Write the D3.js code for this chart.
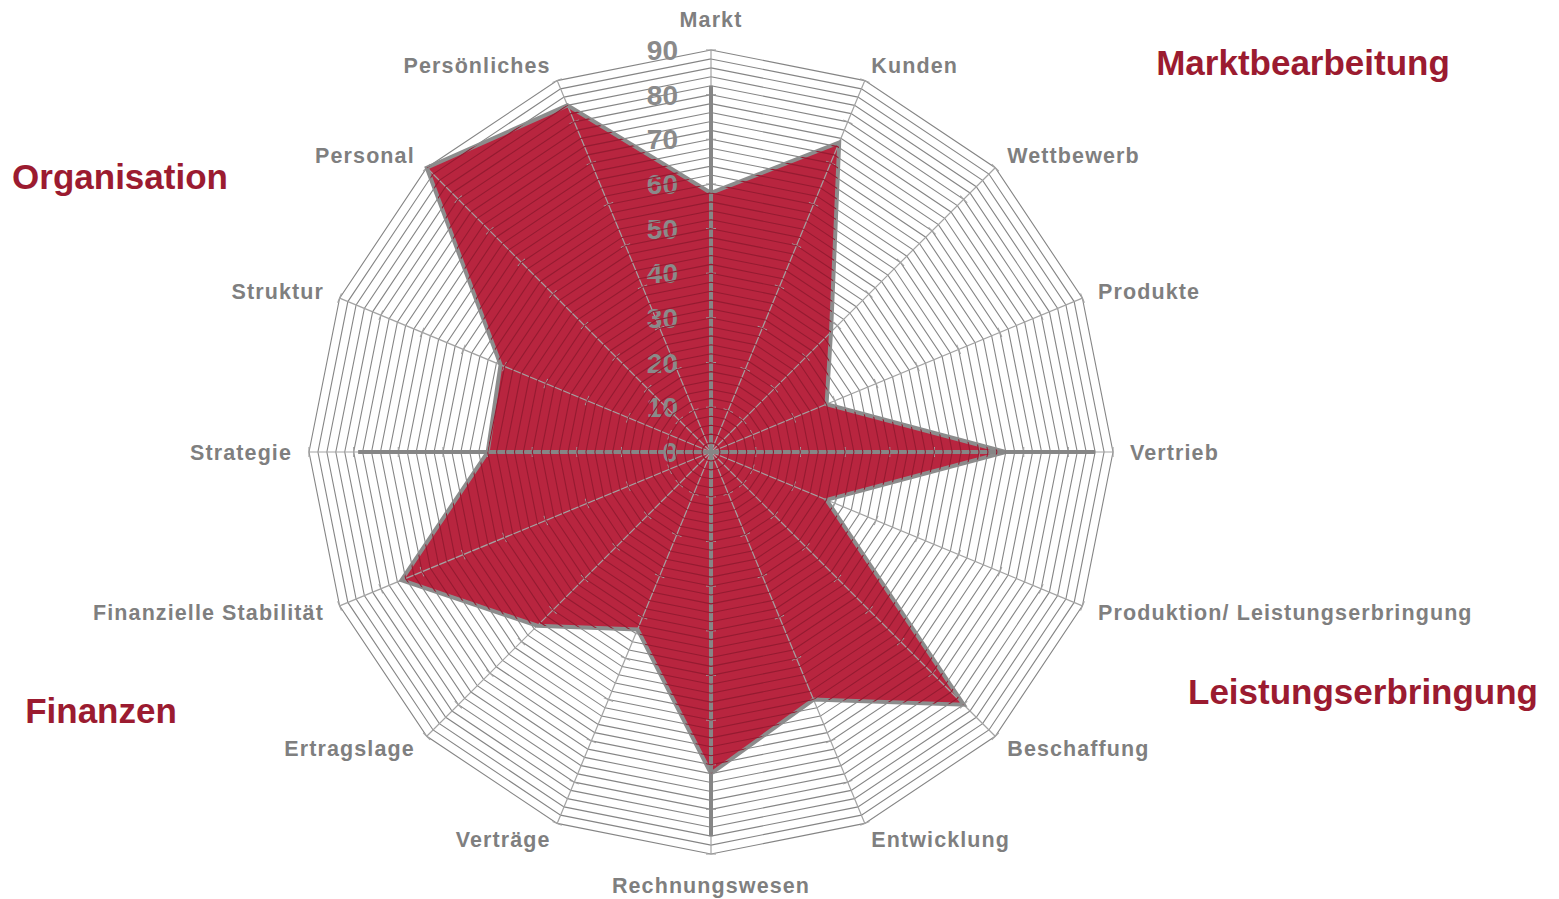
<!DOCTYPE html>
<html>
<head>
<meta charset="utf-8">
<script src="https://cdn.jsdelivr.net/npm/d3@7"></script>
<style>
  body { margin: 0; background: #fff; }
  svg { display: block; font-family: Arial, "Liberation Sans", sans-serif; }
</style>
</head>
<body>
<div id="chart-area"></div>
<script>
var categories = ["Markt", "Kunden", "Wettbewerb", "Produkte", "Vertrieb",
  "Produktion/ Leistungserbringung", "Beschaffung", "Entwicklung", "Rechnungswesen",
  "Verträge", "Ertragslage", "Finanzielle Stabilität", "Strategie", "Struktur",
  "Personal", "Persönliches"];
var values = [58, 75, 38, 28, 66, 28, 80, 60, 72, 43, 55, 75, 50, 51, 90, 84];
var tickLabels = [0, 10, 20, 30, 40, 50, 60, 70, 80, 90];
var groups = ["Marktbearbeitung", "Organisation", "Finanzen", "Leistungserbringung"];

var width = 1559, height = 899;
var cx = 711, cy = 452;
var n = categories.length;
var step = 2 * Math.PI / n;

var svg = d3.select("#chart-area").append("svg")
    .attr("width", width)
    .attr("height", height);

var r = d3.scaleLinear().domain([0, 90]).range([0, 402]);

var g = svg.append("g").attr("transform", "translate(" + cx + "," + cy + ")");

function pt(i, v) {
  var a = i * step;
  return [r(v) * Math.sin(a), -r(v) * Math.cos(a)];
}

var ringLine = d3.lineRadial()
    .angle(function(d, i) { return i * step; })
    .radius(function(d) { return r(d); })
    .curve(d3.curveLinearClosed);

var rings = d3.range(2, 91, 2);

// grid rings
g.append("g").selectAll("path")
  .data(rings)
  .enter().append("path")
    .attr("d", function(v) { return ringLine(d3.range(n).map(function() { return v; })); })
    .attr("fill", "none")
    .attr("stroke", "#858585")
    .attr("stroke-width", 1.1);

// data area
var areaPath = ringLine(values);
svg.append("defs").append("clipPath").attr("id", "clip")
  .append("path")
    .attr("transform", "translate(" + cx + "," + cy + ")")
    .attr("d", areaPath);

g.append("path")
    .attr("d", areaPath)
    .attr("fill", "#b8253f");

// rings visible through the fill
svg.append("g").attr("clip-path", "url(#clip)")
  .append("g").attr("transform", "translate(" + cx + "," + cy + ")")
  .selectAll("path")
  .data(rings)
  .enter().append("path")
    .attr("d", function(v) { return ringLine(d3.range(n).map(function() { return v; })); })
    .attr("fill", "none")
    .attr("stroke", "#951b31")
    .attr("stroke-width", 1.1);

// spokes with ticks
var spokes = g.append("g");
d3.range(n).forEach(function(i) {
  var end = pt(i, 90);
  spokes.append("line")
    .attr("x1", 0).attr("y1", 0)
    .attr("x2", end[0]).attr("y2", end[1])
    .attr("stroke", "#a3a3a3")
    .attr("stroke-width", 1.2);
  var a = i * step;
  var px = Math.cos(a) * 5, py = Math.sin(a) * 5;
  tickLabels.slice(1).forEach(function(v) {
    var p = pt(i, v);
    spokes.append("line")
      .attr("x1", p[0] - px).attr("y1", p[1] - py)
      .attr("x2", p[0] + px).attr("y2", p[1] + py)
      .attr("stroke", "#a3a3a3")
      .attr("stroke-width", 1.2);
  });
});

// outline
g.append("path")
    .attr("d", areaPath)
    .attr("fill", "none")
    .attr("stroke", "#8c8c8c")
    .attr("stroke-width", 4)
    .attr("stroke-linejoin", "miter");

// heavy main axes
[[0, 82], [4, 86], [8, 86], [12, 79]].forEach(function(d) {
  var p = pt(d[0], d[1]);
  g.append("line")
    .attr("x1", 0).attr("y1", 0)
    .attr("x2", p[0]).attr("y2", p[1])
    .attr("stroke", "#868686")
    .attr("stroke-width", 4);
});

// value labels
g.append("g").selectAll("text")
  .data(tickLabels)
  .enter().append("text")
    .attr("x", -33)
    .attr("y", function(d) { return -r(d); })
    .attr("dy", "0.36em")
    .attr("text-anchor", "end")
    .attr("font-size", "28px")
    .attr("font-weight", "bold")
    .attr("fill", "#8a8a8a")
    .text(function(d) { return d; });

// category labels
g.append("g").selectAll("text")
  .data(categories)
  .enter().append("text")
    .attr("x", function(d, i) { return pt(i, 90)[0] + 17 * Math.sin(i * step); })
    .attr("y", function(d, i) {
      var extra = (i === 0 || i === 8) ? 14 : 0;
      return -(r(90) + 17 + extra) * Math.cos(i * step);
    })
    .attr("dy", "0.36em")
    .attr("text-anchor", function(d, i) {
      var s = Math.sin(i * step);
      return s > 0.01 ? "start" : (s < -0.01 ? "end" : "middle");
    })
    .attr("font-size", "21.5px")
    .attr("font-weight", "bold")
    .attr("letter-spacing", "1.1px")
    .attr("fill", "#7f7f7f")
    .text(function(d) { return d; });

// group titles
var groupPos = [[1303, 62], [120, 176], [101, 710], [1363, 691]];
svg.append("g").selectAll("text")
  .data(groups)
  .enter().append("text")
    .attr("x", function(d, i) { return groupPos[i][0]; })
    .attr("y", function(d, i) { return groupPos[i][1]; })
    .attr("dy", "0.36em")
    .attr("text-anchor", "middle")
    .attr("font-size", "35px")
    .attr("font-weight", "bold")
    .attr("fill", "#9b1b30")
    .text(function(d) { return d; });
</script>
</body>
</html>
